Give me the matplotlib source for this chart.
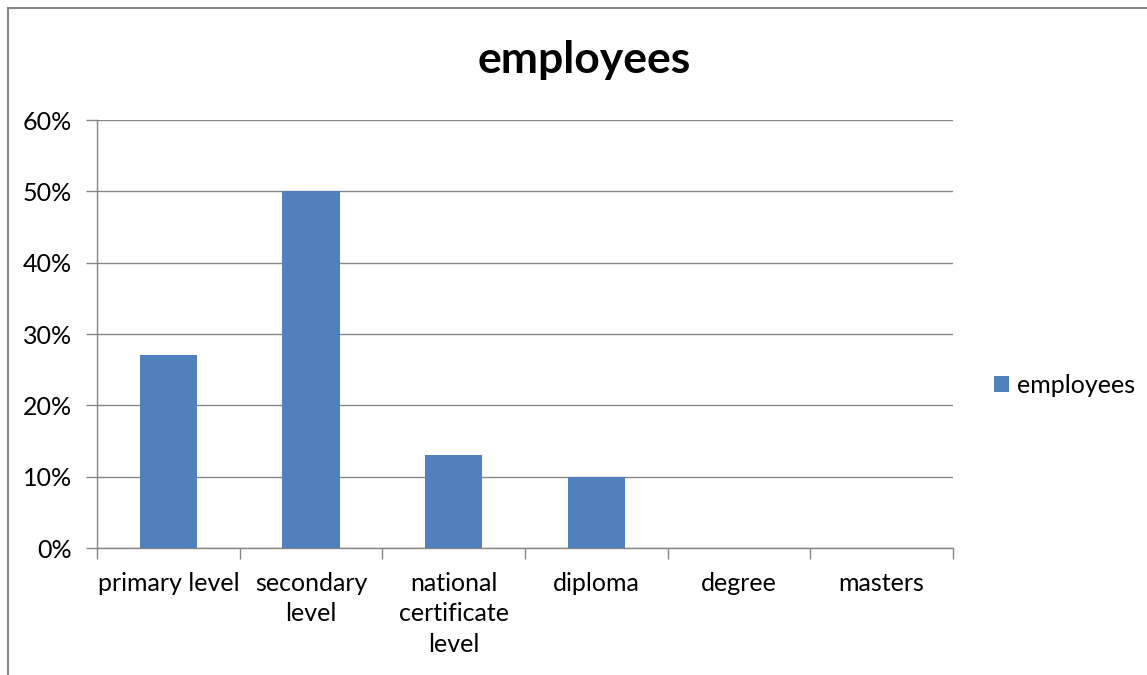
import numpy as np
import matplotlib.pyplot as plt
from matplotlib.patches import Rectangle
from matplotlib.ticker import PercentFormatter

categories = ['primary level', 'secondary\nlevel', 'national\ncertificate\nlevel',
              'diploma', 'degree', 'masters']
values = [0.27, 0.50, 0.13, 0.10, 0.0, 0.0]
series_name = 'employees'

plt.rcParams['font.family'] = ['Lato', 'DejaVu Sans']
grid_col = '#868686'
bar_col = '#4F81BD'

fig = plt.figure(figsize=(11.47, 6.75), dpi=100)
ax = fig.add_axes([97 / 1147, 1 - 548 / 675, (953 - 97) / 1147, (548 - 120) / 675])

x = np.arange(len(categories))
ax.bar(x, values, width=0.4, color=bar_col, label=series_name, zorder=3)

ax.set_xlim(-0.5, len(categories) - 0.5)
ax.set_ylim(0, 0.6)
ax.set_yticks(np.arange(0, 0.61, 0.1))
ax.yaxis.set_major_formatter(PercentFormatter(1.0, decimals=0))
ax.grid(axis='y', color=grid_col, linewidth=1, zorder=0)

ax.set_xticks(x)
ax.set_xticklabels(categories, fontsize=18, linespacing=1.4, va='top')
ax.set_xticks(np.arange(-0.5, len(categories)), minor=True)
ax.tick_params(axis='x', which='major', length=0, pad=17)
ax.tick_params(axis='x', which='minor', length=8, color=grid_col, width=1)
ax.tick_params(axis='y', length=8, color=grid_col, width=1, labelsize=18, pad=10)

for s in ['top', 'right']:
    ax.spines[s].set_visible(False)
for s in ['left', 'bottom']:
    ax.spines[s].set_color(grid_col)
    ax.spines[s].set_linewidth(1)

fig.text(584 / 1147, 1 - 60 / 675, series_name, fontsize=32, fontweight='bold',
         ha='center', va='center')

leg = fig.legend(loc='center left', bbox_to_anchor=(994 / 1147, 1 - 385 / 675),
                 frameon=False, fontsize=18, handlelength=0.6, handleheight=0.6,
                 handletextpad=0.3, borderaxespad=0, borderpad=0)

# outer chart border (top and left edges visible)
fig.add_artist(Rectangle((8 / 1147, -0.1), 1.2, 1 - 8 / 675 + 0.1,
                         transform=fig.transFigure, fill=False,
                         edgecolor=grid_col, linewidth=1.5))

fig.savefig('out.png', dpi=100)
